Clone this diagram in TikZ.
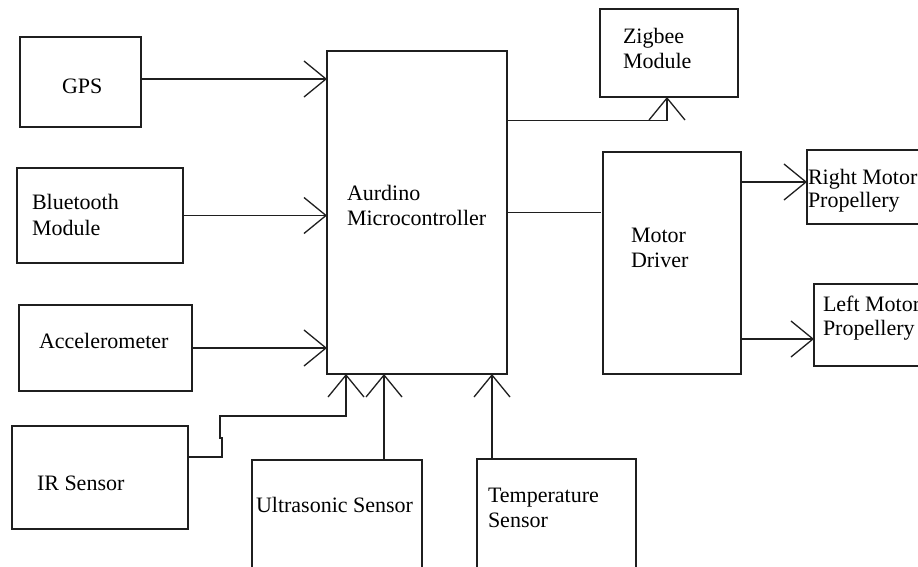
\documentclass[tikz,border=0pt]{standalone}
\usepackage{fontspec}
\setmainfont{Liberation Serif}
\usetikzlibrary{arrows.meta,calc}
\begin{document}
\begin{tikzpicture}[x=1pt,y=-1pt,
  box/.style={draw=black!88,line width=1.4pt,rectangle,inner sep=0pt,outer sep=0pt},
  txt/.style={inner sep=0pt,outer sep=0pt,anchor=base west,font=\fontsize{22}{25}\selectfont,text=black},
  wire/.style={draw=black!88,line width=1.4pt},
  arr/.style={wire,-{Straight Barb[length=22pt,width=36pt,line width=1.3pt]}}]
\useasboundingbox[fill=white] (0,0) rectangle (918,567);
% boxes
\node[box,minimum width=121pt,minimum height=90pt] (gps) at (80.5,82) {};
\node[box,minimum width=166pt,minimum height=95pt] (bt) at (100,215.5) {};
\node[box,minimum width=173pt,minimum height=86pt] (acc) at (105.5,348) {};
\node[box,minimum width=176pt,minimum height=103pt] (ir) at (100,477.5) {};
\node[box,minimum width=180pt,minimum height=323pt] (mc) at (417,212.5) {};
\node[box,minimum width=170pt,minimum height=140pt] (us) at (337,530) {};
\node[box,minimum width=159pt,minimum height=141pt] (temp) at (556.5,529.5) {};
\node[box,minimum width=138pt,minimum height=88pt] (zig) at (669,53) {};
\node[box,minimum width=138pt,minimum height=222pt] (md) at (672,263) {};
\node[box,minimum width=123pt,minimum height=74pt] (rm) at (868.5,187) {};
\node[box,minimum width=116pt,minimum height=82pt] (lm) at (872,325) {};
% texts
\node[txt] (gpst) at (62,94) {GPS};
\node[txt] (bt1) at (32,209) {Bluetooth};
\node[txt] (bt2) at (32,235) {Module};
\node[txt] (acct) at (39,348) {Accelerometer};
\node[txt] (irt) at (37,490) {IR Sensor};
\node[txt] (mc1) at (347,200) {Aurdino};
\node[txt] (mc2) at (347,225) {Microcontroller};
\node[txt] (ust) at (256,512) {Ultrasonic Sensor};
\node[txt] (te1) at (488,502) {Temperature};
\node[txt] (te2) at (488,527) {Sensor};
\node[txt] (zi1) at (623,44) {Zigbee};
\node[txt] (zi2) at (623,69) {Module};
\node[txt] (md1) at (631,242) {Motor};
\node[txt] (md2) at (631,267) {Driver};
\node[txt] (rm1) at (808,184) {Right Motor};
\node[txt] (rm2) at (808,207) {Propellery};
\node[txt] (lm1) at (823,311) {Left Motor};
\node[txt] (lm2) at (823,335) {Propellery};
% helper coordinates
\coordinate (g1) at ([yshift=3pt]gps.east);
\coordinate (i1) at ([yshift=20.5pt]ir.east);
\coordinate (m1) at ([xshift=-71pt]mc.south);
\coordinate (m2) at ([xshift=-33pt]mc.south);
\coordinate (m3) at ([xshift=75pt]mc.south);
\coordinate (z1) at ([yshift=92pt]mc.east);
\coordinate (r1) at ([yshift=5pt]rm.west);
\coordinate (l1) at ([yshift=-14pt]lm.west);
% connectors
\draw[arr] (g1) -- (g1 -| mc.west);
\draw[arr] (bt.east) -- (bt.east -| mc.west);
\draw[arr] (acc.east) -- (acc.east -| mc.west);
\draw[arr] (i1) -- ++(34,0) -- ++(0,-19) -- ++(-2,0) -- ++(0,-22) -| (m1);
\draw[arr] (m2 |- us.north) -- (m2);
\draw[arr] (m3 |- temp.north) -- (m3);
\draw[arr] (z1) -| ([xshift=-2pt]zig.south);
\draw[wire] (mc.east) -- ([xshift=-2pt]mc.east -| md.west);
\draw[arr] (r1 -| md.east) -- (r1);
\draw[arr] (l1 -| md.east) -- (l1);
\end{tikzpicture}
\end{document}
